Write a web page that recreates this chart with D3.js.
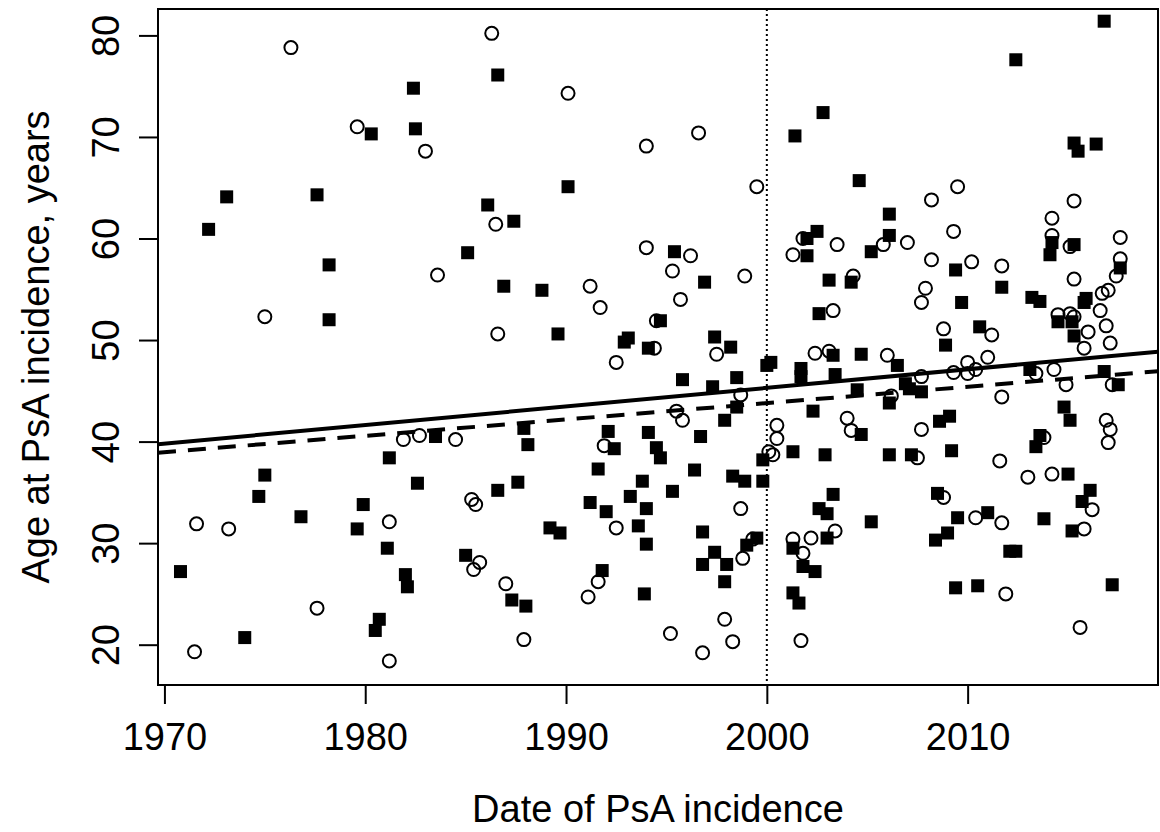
<!DOCTYPE html>
<html>
<head>
<meta charset="utf-8">
<script src="https://cdn.jsdelivr.net/npm/d3@7"></script>
<style>
  body { margin: 0; background: #fff; }
  svg text { font-family: "Liberation Sans", Arial, Helvetica, sans-serif; fill: #000; }
</style>
</head>
<body>
<div id="chart"></div>
<script>
// filled squares: [year, age at PsA incidence]
var filledPts = [
  [1970.8,27.2],[1974.0,20.7],[1975.0,36.7],[1974.7,34.6],[1976.8,32.6],[1979.9,33.8],[1979.6,31.4],
  [1981.1,29.5],[1981.2,38.4],[1980.7,22.5],[1980.5,21.4],[1982.0,26.9],[1982.1,25.7],[1983.5,40.5],
  [1987.9,41.3],[1988.1,39.7],[1992.1,41.0],[1992.4,39.3],[1994.1,40.9],[1991.6,37.3],[1982.6,35.9],
  [1986.6,35.2],[1987.6,36.0],[1993.8,36.1],[1993.2,34.6],[1994.0,33.4],[1991.2,34.0],[1992.0,33.1],
  [1993.6,31.7],[1994.0,29.9],[1989.2,31.5],[1989.7,31.0],[1985.0,28.8],[1987.3,24.4],[1988.0,23.8],
  [1991.8,27.3],[1993.9,25.0],[2000.0,47.5],[2000.2,47.8],[2003.3,48.5],[2004.7,48.6],[2006.5,47.5],
  [2001.7,47.2],[2001.7,46.4],[2003.4,46.6],[1995.8,46.1],[1998.5,46.3],[1997.3,45.4],[2004.5,45.1],
  [2006.1,43.8],[1998.5,43.4],[1997.9,42.1],[2002.3,43.0],[2004.7,40.7],[1996.7,40.5],[1994.5,39.4],
  [1994.7,38.4],[1999.8,38.2],[2001.3,39.0],[2002.9,38.7],[2006.1,38.7],[1996.4,37.2],[1995.3,35.1],
  [1998.3,36.6],[1998.9,36.1],[1999.8,36.1],[2003.3,34.8],[2002.6,33.4],[2003.0,32.9],[2005.2,32.1],
  [1996.8,31.1],[1999.5,30.5],[1999.0,29.8],[1997.4,29.1],[1996.8,27.9],[1998.0,27.9],[1997.9,26.2],
  [2001.3,29.5],[2003.0,30.5],[2001.8,27.7],[2002.4,27.2],[2001.3,25.1],[2001.6,24.1],[2013.1,47.1],
  [2016.8,46.9],[2017.5,45.6],[2006.9,45.7],[2007.1,45.2],[2007.7,44.9],[2014.8,43.4],[2015.1,42.1],
  [2009.1,42.5],[2008.6,42.0],[2013.6,40.6],[2013.4,39.5],[2007.2,38.7],[2009.2,39.1],[2015.0,36.8],
  [2016.1,35.2],[2015.7,34.1],[2008.5,34.9],[2009.5,32.5],[2011.0,33.0],[2013.8,32.4],[2015.2,31.2],
  [2009.0,31.0],[2008.4,30.3],[2012.1,29.2],[2012.4,29.2],[2009.4,25.6],[2010.5,25.8],[2017.2,25.9],
  [1980.3,70.3],[1973.1,64.1],[1977.6,64.3],[1972.2,60.9],[1978.2,57.4],[1978.2,52.0],[1986.6,76.1],
  [1982.4,74.8],[1982.5,70.8],[1990.1,65.1],[1986.1,63.3],[1987.4,61.7],[1985.1,58.6],[1986.9,55.3],
  [1988.8,54.9],[1989.6,50.6],[1993.1,50.2],[1992.9,49.8],[1994.1,49.2],[2002.8,72.4],[2001.4,70.1],
  [2004.6,65.7],[2006.1,62.4],[2006.1,60.3],[2005.2,58.7],[2002.5,60.7],[2002.0,60.0],[2002.0,58.3],
  [2003.1,55.9],[2004.2,55.7],[2002.6,52.6],[1995.4,58.7],[1996.9,55.7],[1994.7,51.9],[1997.4,50.3],
  [1998.2,49.3],[2016.8,81.4],[2012.4,77.6],[2015.3,69.4],[2015.5,68.6],[2016.4,69.3],[2014.2,59.6],
  [2014.1,58.4],[2015.3,59.4],[2009.4,56.9],[2011.7,55.2],[2009.7,53.7],[2017.6,57.1],[2013.2,54.2],
  [2013.6,53.8],[2015.8,53.7],[2015.9,54.1],[2014.5,51.8],[2015.2,51.8],[2010.6,51.3],[2008.9,49.5],
  [2015.3,50.4]
];

// open circles: [year, age at PsA incidence]
var openPts = [
  [1971.6,31.9],[1973.2,31.4],[1971.5,19.3],[1977.6,23.6],[1981.2,32.1],[1981.9,40.2],[1981.2,18.4],
  [1982.7,40.6],[1984.5,40.2],[1992.5,47.8],[1991.9,39.6],[1985.3,34.3],[1985.5,33.8],[1992.5,31.5],
  [1985.7,28.1],[1985.4,27.4],[1987.0,26.0],[1987.9,20.5],[1991.6,26.2],[1991.1,24.7],[2002.4,48.7],
  [2003.1,48.9],[2006.0,48.5],[1998.7,44.6],[2006.2,44.5],[1995.5,43.0],[1995.8,42.1],[2004.0,42.3],
  [2004.2,41.1],[2000.5,41.6],[2000.5,40.3],[2000.1,39.0],[2000.3,38.7],[1998.7,33.4],[1999.3,30.4],
  [1998.8,28.5],[2001.3,30.4],[2002.2,30.5],[2001.8,29.0],[2003.4,31.2],[1997.9,22.5],[1995.2,21.1],
  [1998.3,20.3],[1996.8,19.2],[2001.7,20.4],[2007.7,46.4],[2009.3,46.8],[2010.0,47.8],[2010.0,46.7],
  [2010.4,47.1],[2011.0,48.3],[2013.4,46.7],[2014.3,47.1],[2014.9,45.6],[2017.2,45.6],[2011.7,44.4],
  [2007.7,41.2],[2013.8,40.4],[2016.9,42.1],[2017.1,41.2],[2017.0,39.9],[2007.5,38.4],[2011.6,38.1],
  [2013.0,36.5],[2014.2,36.8],[2016.2,33.3],[2008.8,34.5],[2010.4,32.5],[2011.7,32.0],[2015.8,31.4],
  [2011.9,25.0],[2015.6,21.7],[1976.3,78.8],[1979.6,71.0],[1975.0,52.3],[1986.3,80.2],[1990.1,74.3],
  [1983.0,68.6],[1994.0,69.1],[1986.5,61.4],[1983.6,56.4],[1994.0,59.1],[1991.2,55.3],[1991.7,53.2],
  [1986.6,50.6],[1996.6,70.4],[1999.5,65.1],[2005.8,59.4],[2001.8,60.0],[2003.5,59.4],[2001.3,58.4],
  [2004.3,56.3],[2003.3,52.9],[1996.2,58.3],[1995.3,56.8],[1998.9,56.3],[1995.7,54.0],[1994.5,51.9],
  [1997.5,48.6],[1994.4,49.2],[2009.5,65.1],[2008.2,63.8],[2015.3,63.7],[2014.2,62.0],[2007.0,59.6],
  [2009.3,60.7],[2014.2,60.3],[2015.1,59.2],[2017.6,60.1],[2008.2,57.9],[2010.2,57.7],[2011.7,57.3],
  [2007.9,55.1],[2007.7,53.7],[2015.3,56.0],[2017.6,58.0],[2017.4,56.3],[2017.0,54.9],[2016.7,54.6],
  [2016.6,52.9],[2014.5,52.5],[2015.1,52.6],[2015.3,52.3],[2008.8,51.1],[2011.2,50.5],[2016.0,50.8],
  [2016.9,51.4],[2015.8,49.2],[2017.1,49.7]
];

// fitted lines: [age at 1970, slope per year]
var fitSolid = [39.8, 0.183];
var fitDashed = [38.96, 0.161];

var xTicks = [1970, 1980, 1990, 2000, 2010];
var yTicks = [20, 30, 40, 50, 60, 70, 80];
var cutYear = 2000;

var width = 1160, height = 832;
var plotLeft = 158, plotRight = 1158, plotTop = 9, plotBottom = 685;

var x = d3.scaleLinear().domain([1969.68, 2019.48]).range([plotLeft, plotRight]);
var y = d3.scaleLinear().domain([16.03, 82.6]).range([plotBottom, plotTop]);

var svg = d3.select("#chart").append("svg")
  .attr("width", width)
  .attr("height", height);

svg.append("defs").append("clipPath").attr("id", "plotclip")
  .append("rect")
  .attr("x", plotLeft).attr("y", plotTop)
  .attr("width", plotRight - plotLeft).attr("height", plotBottom - plotTop);

// axes
var xAxis = svg.append("g")
  .attr("transform", "translate(0," + plotBottom + ")")
  .call(d3.axisBottom(x).tickValues(xTicks).tickFormat(d3.format("d")).tickSize(19).tickPadding(19));
var yAxis = svg.append("g")
  .attr("transform", "translate(" + plotLeft + ",0)")
  .call(d3.axisLeft(y).tickValues(yTicks).tickSize(19));

[xAxis, yAxis].forEach(function(a) {
  a.select(".domain").remove();
  a.selectAll(".tick line").attr("stroke", "#000").attr("stroke-width", 2);
  a.selectAll(".tick text").style("font-size", "38px").attr("fill", "#000");
});
yAxis.selectAll(".tick text")
  .attr("x", 0).attr("y", -39).attr("dy", null)
  .attr("text-anchor", "middle")
  .attr("transform", "rotate(-90)");
// axis line between first and last tick (R style)
svg.append("line")
  .attr("x1", x(xTicks[0])).attr("x2", x(xTicks[xTicks.length - 1]))
  .attr("y1", plotBottom).attr("y2", plotBottom)
  .attr("stroke", "#000").attr("stroke-width", 2);

// axis titles
svg.append("text")
  .attr("x", (plotLeft + plotRight) / 2).attr("y", 822)
  .attr("text-anchor", "middle")
  .style("font-size", "38px")
  .text("Date of PsA incidence");
svg.append("text")
  .attr("transform", "translate(49," + (plotTop + plotBottom) / 2 + ") rotate(-90)")
  .attr("text-anchor", "middle")
  .style("font-size", "38px")
  .text("Age at PsA incidence, years");

var plot = svg.append("g").attr("clip-path", "url(#plotclip)");

// vertical reference at 2000
plot.append("line")
  .attr("x1", x(cutYear)).attr("x2", x(cutYear))
  .attr("y1", plotTop).attr("y2", plotBottom)
  .attr("stroke", "#000").attr("stroke-width", 2)
  .attr("stroke-dasharray", "2,3");

// markers
var sq = 13;
plot.selectAll("rect.filled")
  .data(filledPts)
  .enter().append("rect")
  .attr("class", "filled")
  .attr("x", function(d) { return x(d[0]) - sq / 2; })
  .attr("y", function(d) { return y(d[1]) - sq / 2; })
  .attr("width", sq).attr("height", sq)
  .attr("fill", "#000");

plot.selectAll("circle.open")
  .data(openPts)
  .enter().append("circle")
  .attr("class", "open")
  .attr("cx", function(d) { return x(d[0]); })
  .attr("cy", function(d) { return y(d[1]); })
  .attr("r", 6.5)
  .attr("fill", "none")
  .attr("stroke", "#000").attr("stroke-width", 2);

// regression lines
var xd = x.domain();
function fitLine(f) {
  return xd.map(function(yr) { return [x(yr), y(f[0] + f[1] * (yr - 1970))]; });
}
plot.append("path")
  .attr("d", d3.line()(fitLine(fitSolid)))
  .attr("fill", "none").attr("stroke", "#000").attr("stroke-width", 4);
plot.append("path")
  .attr("d", d3.line()(fitLine(fitDashed)))
  .attr("fill", "none").attr("stroke", "#000").attr("stroke-width", 4)
  .attr("stroke-dasharray", "18,12");

// box
svg.append("rect")
  .attr("x", plotLeft).attr("y", plotTop)
  .attr("width", plotRight - plotLeft).attr("height", plotBottom - plotTop)
  .attr("fill", "none").attr("stroke", "#000").attr("stroke-width", 2);
</script>
</body>
</html>
